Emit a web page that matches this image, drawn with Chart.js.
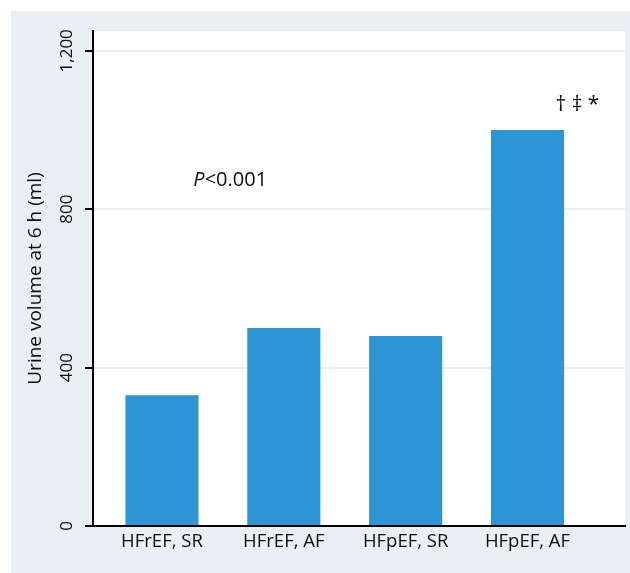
<!DOCTYPE html>
<html>
<head>
<meta charset="utf-8">
<script src="https://cdn.jsdelivr.net/npm/chart.js@4/dist/chart.umd.min.js"></script>
<style>
  html, body { margin: 0; padding: 0; background: #ffffff; }
  #chart { display: block; }
</style>
</head>
<body>
<canvas id="chart" width="630" height="573"></canvas>
<script>
// Urine volume at 6 h by heart-failure phenotype and rhythm
const categories = ['HFrEF, SR', 'HFrEF, AF', 'HFpEF, SR', 'HFpEF, AF'];
const urineVolume = [330, 500, 480, 1000];
const yTicks = [0, 400, 800, 1200];
const yTitle = 'Urine volume at 6 h (ml)';
// Text notes placed in data coordinates (x = category position, 1-based)
const notes = [
  { x: 1.56, y: 874, italic: 'P', text: '<0.001', size: 20 },
  { x: 4.41, y: 1062, italic: '', text: '\u2020 \u2021 *', size: 21 }
];

const FONT = '"Open Sans", Lato, sans-serif';
const BG = '#e8f0f3';
const INK = '#0d0d0d';

// Panel background, white plotting area, and the text notes
const panelPlugin = {
  id: 'panel',
  beforeDraw(chart) {
    const { ctx, chartArea: a } = chart;
    ctx.save();
    ctx.fillStyle = '#ffffff';
    ctx.fillRect(0, 0, chart.width, chart.height);
    ctx.fillStyle = BG;
    ctx.fillRect(11, 11, chart.width - 11, chart.height - 11);
    ctx.fillStyle = '#ffffff';
    ctx.fillRect(a.left, a.top, a.right - a.left, a.bottom - a.top);
    ctx.restore();
  },
  afterDraw(chart) {
    const { ctx, scales: { x, y } } = chart;
    ctx.save();
    ctx.fillStyle = INK;
    ctx.textBaseline = 'middle';
    ctx.textAlign = 'left';
    notes.forEach(n => {
      const px = x.getPixelForValue(n.x);
      const py = y.getPixelForValue(n.y);
      const italicFont = 'italic ' + n.size + 'px ' + FONT;
      const normalFont = n.size + 'px ' + FONT;
      ctx.font = italicFont;
      const wi = n.italic ? ctx.measureText(n.italic).width : 0;
      ctx.font = normalFont;
      const wt = ctx.measureText(n.text).width;
      let sx = px - (wi + wt) / 2;
      if (n.italic) {
        ctx.font = italicFont;
        ctx.fillText(n.italic, sx, py);
        sx += wi;
      }
      ctx.font = normalFont;
      ctx.fillText(n.text, sx, py);
    });
    ctx.restore();
  }
};

new Chart(document.getElementById('chart'), {
  type: 'bar',
  data: {
    datasets: [{
      data: urineVolume.map((v, i) => ({ x: i + 1, y: v })),
      backgroundColor: '#2d95d6',
      borderWidth: 0,
      barPercentage: 0.6,
      categoryPercentage: 1.0
    }]
  },
  options: {
    responsive: false,
    animation: false,
    devicePixelRatio: 1,
    layout: { padding: { left: 0, top: 31, right: 5, bottom: 0 } },
    plugins: { legend: { display: false }, tooltip: { enabled: false } },
    scales: {
      x: {
        type: 'linear',
        offset: false,
        min: 0.434,
        max: 4.80,
        afterBuildTicks(scale) {
          scale.ticks = categories.map((c, i) => ({ value: i + 1 }));
        },
        afterFit(scale) { scale.height = 47; },
        grid: { display: false, drawTicks: false, offset: false },
        border: { display: true, color: '#000000', width: 2 },
        ticks: {
          autoSkip: false,
          maxRotation: 0,
          minRotation: 0,
          padding: 5,
          color: INK,
          font: { family: FONT, size: 18.5 },
          callback: v => categories[Math.round(v) - 1] || ''
        }
      },
      y: {
        min: 0,
        max: 1250,
        afterBuildTicks(scale) {
          scale.ticks = yTicks.map(v => ({ value: v }));
        },
        afterFit(scale) { scale.width = 93; },
        grid: {
          color: c => (c.tick && c.tick.value === 0) ? 'rgba(0,0,0,0)' : '#e6eef1',
          lineWidth: 2,
          tickColor: '#000000',
          tickWidth: 2,
          tickLength: 8
        },
        border: { display: true, color: '#000000', width: 2 },
        ticks: {
          minRotation: 90,
          maxRotation: 90,
          crossAlign: 'center',
          padding: -4,
          color: INK,
          font: { family: FONT, size: 17 },
          callback: v => v.toLocaleString('en-US')
        },
        title: {
          display: true,
          text: yTitle,
          color: INK,
          font: { family: FONT, size: 19 },
          padding: { top: 24, bottom: 0 }
        }
      }
    }
  },
  plugins: [panelPlugin]
});
</script>
</body>
</html>
